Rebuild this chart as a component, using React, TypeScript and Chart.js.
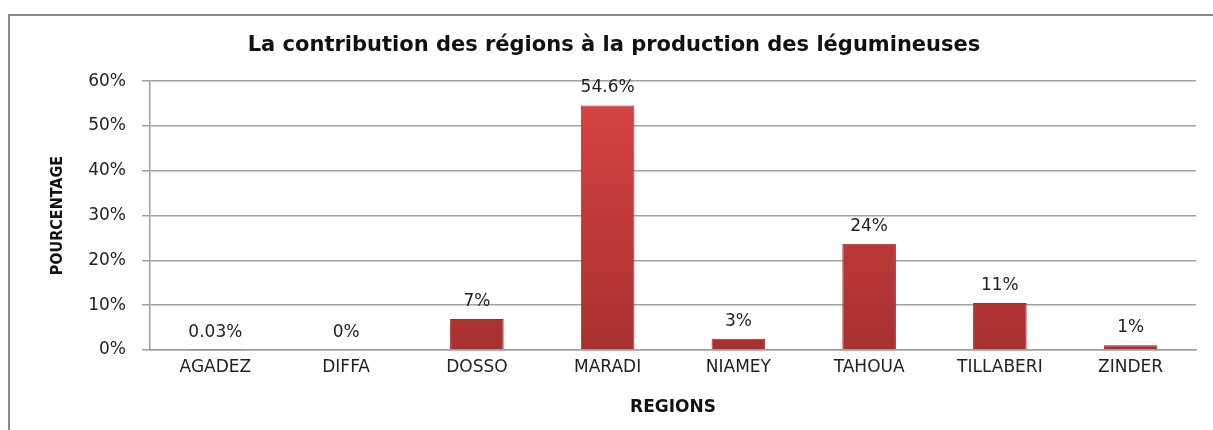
import React, { useEffect, useRef } from "react";
import { Chart, registerables } from "chart.js";

Chart.register(...registerables);

const categories = ["AGADEZ", "DIFFA", "DOSSO", "MARADI", "NIAMEY", "TAHOUA", "TILLABERI", "ZINDER"];
const values = [0.03, 0, 6.9, 54.6, 2.5, 23.7, 10.5, 1.05];
const valueLabels = ["0.03%", "0%", "7%", "54.6%", "3%", "24%", "11%", "1%"];
const yTicks = [0, 10, 20, 30, 40, 50, 60];

const TITLE = "La contribution des régions à la production des légumineuses";

const dataLabelPlugin = {
  id: "dataLabels",
  afterDatasetsDraw(chart: any) {
    const ctx = chart.ctx;
    const meta = chart.getDatasetMeta(0);
    ctx.save();
    ctx.font = "17px 'DejaVu Sans'";
    ctx.fillStyle = "#222";
    ctx.textAlign = "center";
    ctx.textBaseline = "bottom";
    meta.data.forEach((bar: any, i: number) => {
      ctx.fillText(valueLabels[i], bar.x, bar.y - 9);
    });
    ctx.restore();
  },
};

export default function App() {
  const ref = useRef<HTMLCanvasElement | null>(null);
  useEffect(() => {
    if (!ref.current) return;
    const chart = new Chart(ref.current, {
      type: "bar",
      data: {
        labels: categories,
        datasets: [
          {
            data: values,
            backgroundColor: (c: any) => {
              const area = c.chart.chartArea;
              if (!area) return "#C0392F";
              const g = c.chart.ctx.createLinearGradient(0, area.top, 0, area.bottom);
              g.addColorStop(0, "#DA4444");
              g.addColorStop(1, "#A83030");
              return g;
            },
            borderColor: "#9E2B2B",
            borderWidth: 1,
            categoryPercentage: 1,
            barPercentage: 0.41,
          },
        ],
      },
      plugins: [dataLabelPlugin],
      options: {
        animation: false,
        responsive: false,
        layout: { padding: { left: 32, right: 17, top: 0, bottom: 0 } },
        plugins: {
          legend: { display: false },
          tooltip: { enabled: false },
          title: {
            display: true,
            text: TITLE,
            color: "#111",
            font: { family: "'DejaVu Sans'", size: 21, weight: "bold" },
            padding: { top: 33, bottom: 23 },
          },
        },
        scales: {
          x: {
            grid: { display: false, drawTicks: false },
            border: { color: "#A0A0A0", width: 1.5 },
            ticks: {
              color: "#222",
              font: { family: "'DejaVu Sans'", size: 17 },
              padding: 7,
              maxRotation: 0,
              autoSkip: false,
            },
            title: {
              display: true,
              text: "REGIONS",
              color: "#111",
              font: { family: "'DejaVu Sans'", size: 17, weight: "bold" },
              padding: { top: 0, bottom: 12 },
            },
            afterFit(scale: any) {
              scale.height = 80;
            },
          },
          y: {
            min: 0,
            max: 60,
            afterBuildTicks(scale: any) {
              scale.ticks = yTicks.map((v) => ({ value: v }));
            },
            grid: { color: "#A0A0A0", lineWidth: 1.5, tickLength: 8, tickColor: "#A0A0A0" },
            border: { color: "#A0A0A0", width: 1.5 },
            ticks: {
              color: "#222",
              font: { family: "'DejaVu Sans'", size: 17 },
              padding: 16,
              callback: (v: any) => v + "%",
            },
            title: {
              display: true,
              text: "POURCENTAGE",
              color: "#111",
              font: { family: "'DejaVu Sans Condensed'", size: 16, weight: "bold" },
              padding: { top: 16, bottom: 0 },
            },
            afterFit(scale: any) {
              scale.width = 118;
            },
          },
        },
      },
    });
    return () => chart.destroy();
  }, []);

  return (
    <div style={{ position: "absolute", left: 0, top: 0, width: 1213, height: 430, background: "#fff" }}>
      <div
        style={{
          position: "absolute",
          left: 8,
          top: 14,
          width: 1213,
          height: 430,
          borderLeft: "2px solid #888",
          borderTop: "2px solid #888",
          boxSizing: "border-box",
        }}
      />
      <canvas ref={ref} width={1213} height={430} style={{ position: "absolute", left: 0, top: 0 }} />
    </div>
  );
}
